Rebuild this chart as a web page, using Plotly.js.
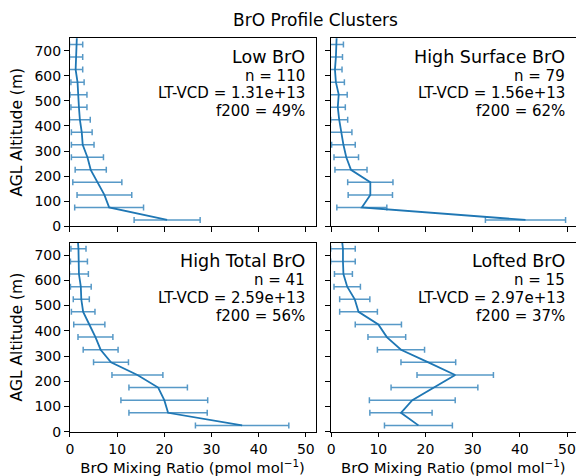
<!DOCTYPE html>
<html>
<head>
<meta charset="utf-8">
<script src="https://cdn.plot.ly/plotly-3.0.1.min.js"></script>
<style>html,body{margin:0;padding:0;background:#fff;}</style>
</head>
<body>
<div id="chart" style="width:576px;height:476px;"></div>
<script>
// Altitude bin centres (m, above ground level)
const altitude = [25, 75, 125, 175, 225, 275, 325, 375, 425, 475, 525, 575, 625, 675, 725, 775];

// Cluster names and statistics
const clusterNames = ["Low BrO", "High Surface BrO", "High Total BrO", "Lofted BrO"];
const clusterN = [110, 79, 41, 15];
const clusterLTVCD = ["1.31e+13", "1.56e+13", "2.59e+13", "2.97e+13"];
const clusterF200 = [49, 62, 56, 37];

// Mean BrO mixing ratio (pmol/mol) per altitude bin
const lowBrO =         [20.6, 8.3, 7.3, 5.8, 4.4, 3.7, 2.7, 2.5, 2.1, 1.9, 1.8, 1.6, 1.2, 1.3, 1.3, 1.5];
const highSurfaceBrO = [41.2, 6.5, 8.3, 8.3, 4.2, 3.2, 2.6, 2.1, 1.7, 1.4, 1.6, 1.0, 0.8, 1.0, 1.1, 1.2];
const highTotalBrO =   [36.5, 20.8, 20.0, 18.7, 14.3, 8.7, 6.5, 5.4, 4.1, 2.8, 2.4, 2.3, 1.9, 1.9, 1.8, 1.6];
const loftedBrO =      [18.5, 14.8, 17.2, 21.9, 26.3, 20.6, 14.8, 11.8, 10.0, 5.8, 5.0, 3.4, 2.6, 2.5, 2.5, 2.2];

// Error bar half-widths (pmol/mol)
const lowBrOErr =         [7.0, 7.3, 5.8, 5.2, 3.3, 3.4, 2.4, 2.2, 2.2, 1.7, 1.8, 1.4, 1.5, 1.4, 1.4, 1.4];
const highSurfaceBrOErr = [8.5, 5.3, 4.7, 4.8, 3.4, 2.6, 2.5, 2.3, 1.8, 1.6, 1.8, 1.8, 1.5, 1.4, 1.5, 1.5];
const highTotalBrOErr =   [9.9, 8.3, 9.2, 6.2, 5.4, 3.7, 3.7, 3.7, 3.3, 2.5, 1.7, 2.2, 2.0, 1.8, 1.6, 1.6];
const loftedBrOErr =      [7.2, 6.6, 9.1, 9.2, 8.1, 5.8, 5.0, 4.0, 4.9, 4.0, 3.2, 2.8, 1.9, 2.6, 2.6, 2.4];

const seriesValues = [lowBrO, highSurfaceBrO, highTotalBrO, loftedBrO];
const seriesErrors = [lowBrOErr, highSurfaceBrOErr, highTotalBrOErr, loftedBrOErr];

const xTickVals = [0, 10, 20, 30, 40, 50];
const yTickVals = [0, 100, 200, 300, 400, 500, 600, 700];

const W = 576, H = 476;
const FONT = "DejaVu Sans, Liberation Sans, sans-serif";
const BLUE = "#1f77b4";

// panel pixel boxes [left, right, top, bottom]
const boxes = [
  [69.5, 315.7, 38.3, 226.2],
  [330.7, 576, 38.3, 226.2],
  [69.5, 315.7, 242.5, 431.7],
  [330.7, 576, 242.5, 431.7]
];
const pxPerUnit = 246.2 / 52.2;

const traces = [];
const layout = {
  width: W, height: H,
  margin: {l: 0, r: 0, t: 0, b: 0},
  paper_bgcolor: "#fff", plot_bgcolor: "#fff",
  showlegend: false,
  font: {family: FONT, size: 14, color: "#000"},
  title: {text: "BrO Profile Clusters", font: {family: FONT, size: 17, color: "#000"},
          x: 315.5 / W, xref: "paper", xanchor: "center", y: 1 - 20 / H, yref: "container", yanchor: "middle"},
  annotations: []
};

for (let i = 0; i < 4; i++) {
  const k = i + 1;
  const sfx = (k === 1 ? "" : String(k));
  const b = boxes[i];
  const widthPx = b[1] - b[0];
  traces.push({
    type: "scatter", mode: "lines",
    x: seriesValues[i], y: altitude,
    xaxis: "x" + sfx, yaxis: "y" + sfx,
    line: {color: BLUE, width: 1.8},
    error_x: {type: "data", array: seriesErrors[i], visible: true,
              color: "rgba(31,119,180,0.75)", thickness: 1.5, width: 3}
  });
  const isBottom = i >= 2, isLeft = (i % 2) === 0;
  const xax = {
    domain: [b[0] / W, b[1] / W],
    range: [-0.1, widthPx / pxPerUnit - 0.1],
    anchor: "y" + sfx,
    tickvals: xTickVals, ticktext: xTickVals.map(String),
    showticklabels: isBottom,
    ticks: "outside", ticklen: 4.5, tickwidth: 1, tickcolor: "#000",
    showline: true, linecolor: "#000", linewidth: 1, mirror: true,
    showgrid: false, zeroline: false,
    tickfont: {family: FONT, size: 14, color: "#000"}
  };
  if (isBottom) xax.title = {text: "BrO Mixing Ratio (pmol mol<sup>−1</sup>)", font: {family: FONT, size: 14.8, color: "#000"}, standoff: 5};
  const yax = {
    domain: [1 - b[3] / H, 1 - b[2] / H],
    range: [0, 750],
    anchor: "x" + sfx,
    tickvals: yTickVals, ticktext: yTickVals.map(String),
    showticklabels: isLeft,
    ticks: "outside", ticklen: 4.5, tickwidth: 1, tickcolor: "#000",
    showline: true, linecolor: "#000", linewidth: 1, mirror: true,
    showgrid: false, zeroline: false,
    tickfont: {family: FONT, size: 14, color: "#000"}
  };
  if (isLeft) yax.title = {text: "AGL Altitude (m)", font: {family: FONT, size: 15.5, color: "#000"}, standoff: 8};
  layout["xaxis" + sfx] = xax;
  layout["yaxis" + sfx] = yax;

  const xd = "x" + sfx + " domain";
  const yd = "y" + sfx + " domain";
  const lines = [
    {t: clusterNames[i], s: 17.5, top: 6.5},
    {t: "n = " + clusterN[i], s: 15, top: 26.5},
    {t: "LT-VCD = " + clusterLTVCD[i], s: 15, top: 44.2},
    {t: "f200 = " + clusterF200[i] + "%", s: 15, top: 62.2}
  ];
  const rightPad = (i % 2 === 0) ? 8.5 : 9.5;
  lines.forEach(L => {
    layout.annotations.push({
      xref: xd, yref: yd, x: 1, y: 1, xanchor: "right", yanchor: "top",
      xshift: -rightPad, yshift: -L.top, showarrow: false,
      text: L.t, font: {family: FONT, size: L.s, color: "#000"}
    });
  });
}

Plotly.newPlot("chart", traces, layout, {staticPlot: true, displayModeBar: false});
</script>
</body>
</html>
